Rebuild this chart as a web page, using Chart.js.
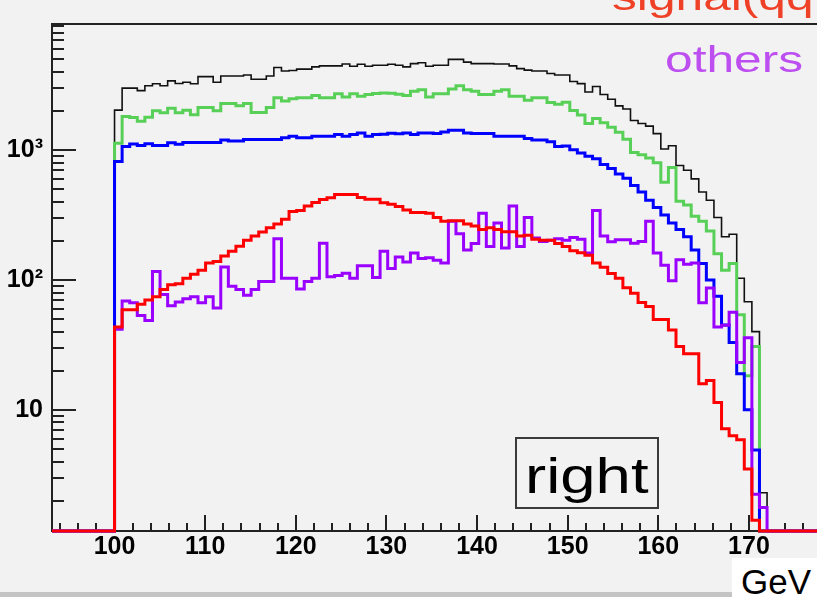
<!DOCTYPE html>
<html>
<head>
<meta charset="utf-8">
<script src="https://cdn.jsdelivr.net/npm/chart.js@4.4.1/dist/chart.umd.min.js"></script>
<style>
html,body{margin:0;padding:0;background:#f2f2f2;overflow:hidden;}
#wrap{position:relative;width:817px;height:597px;overflow:hidden;background:#f2f2f2;}
#c{position:absolute;left:0;top:0;}
.t{position:absolute;white-space:nowrap;line-height:1;font-family:"Liberation Sans",Arial,sans-serif;transform-origin:0 0;}
</style>
</head>
<body>
<div id="wrap">
<canvas id="c" width="817" height="597"></canvas>
<div class="t" style="left:612px;top:-20px;font-size:36px;color:#ef4128;transform:scaleX(1.38)">signal(qqH)</div>
<div class="t" style="left:665px;top:42px;font-size:36px;color:#bd4ff0;transform:scaleX(1.38)">others</div>
<div style="position:absolute;left:515px;top:437px;width:144px;height:72px;box-sizing:border-box;border:2px solid #3a3a3a;"></div>
<div class="t" style="left:525px;top:451px;font-size:50px;color:#000;transform:scaleX(1.27)">right</div>
<div style="position:absolute;left:0;top:592px;width:732px;height:5px;background:#c4c4c4"></div>
<div style="position:absolute;left:732px;top:558px;width:85px;height:39px;background:#ffffff"></div>
<div class="t" style="left:741px;top:564px;font-size:35px;color:#000">GeV</div>
</div>
<script>
// ---- binning (GeV) ----
const binStart = 100;
const binWidth = 0.8372;

// ---- tick labels ----
const xTickValues = [100, 110, 120, 130, 140, 150, 160, 170];
const yTickValues = [10, 100, 1000];
const yTickLabels = ['10', '10\u00B2', '10\u00B3'];

// ---- series (entries per bin) ----
const total = [2030, 3000, 3000, 2870, 3130, 3240, 3130, 3410, 3260, 3330,
  3240, 3680, 3680, 3330, 3720, 3720, 3720, 3790, 3510, 3510,
  3720, 4320, 4060, 4100, 4200, 4200, 4370, 4450, 4450, 4450,
  4600, 4420, 4580, 4420, 4500, 4500, 4580, 4500, 4370, 4630,
  4710, 4420, 4500, 4500, 4990, 4990, 4760, 4630, 4630, 4630,
  4600, 4600, 4450, 4240, 4130, 4060, 4060, 3890, 3790, 3790,
  3370, 3250, 2800, 3090, 2680, 2460, 2190, 2070, 1690, 1600,
  1530, 1340, 1020, 1080, 760, 700, 600, 476, 411, 303,
  215, 225, 103, 68, 40, 2.3];

const greenBkg = [1130, 1810, 1780, 1670, 1790, 2010, 1940, 2100, 1940, 2030,
  1870, 2130, 2130, 2010, 2280, 2280, 2190, 2280, 1950, 1950,
  2130, 2530, 2390, 2480, 2530, 2530, 2630, 2530, 2530, 2710,
  2560, 2710, 2600, 2680, 2730, 2750, 2740, 2690, 2630, 2840,
  2920, 2560, 2710, 2710, 2950, 3130, 2920, 2840, 2680, 2680,
  2840, 2920, 2600, 2600, 2420, 2530, 2530, 2320, 2250, 2340,
  2020, 1860, 1600, 1750, 1620, 1500, 1370, 1210, 960, 920,
  870, 800, 565, 733, 404, 377, 309, 283, 238, 159,
  119, 134, 54, 18.3, 30.8, 0];

const blueBkg = [817, 1064, 1115, 1086, 1121, 1086, 1086, 1140, 1111, 1144,
  1144, 1144, 1144, 1144, 1195, 1174, 1174, 1209, 1209, 1209,
  1209, 1209, 1243, 1280, 1243, 1243, 1280, 1280, 1280, 1318,
  1280, 1318, 1356, 1280, 1318, 1326, 1349, 1337, 1356, 1318,
  1356, 1356, 1342, 1379, 1420, 1420, 1356, 1342, 1342, 1342,
  1280, 1280, 1280, 1280, 1230, 1195, 1195, 1160, 1064, 1077,
  1005, 950, 895, 856, 776, 720, 653, 606, 533, 476,
  411, 361, 317, 275, 245, 215, 170, 134, 100, 75,
  45, 33, 19, 10, 4.9, 0];

const signal = [43.4, 59, 59, 65.1, 70.2, 74.3, 84.4, 92, 93.6, 103,
  110.5, 119, 135, 139, 153, 166, 182, 202, 218, 234,
  252, 270, 294, 336, 342, 371, 395, 416, 429, 454,
  454, 454, 431, 418, 418, 393, 382, 367, 346, 331,
  331, 327, 303, 283, 286, 286, 270, 260, 245, 252,
  245, 235, 235, 218, 221, 206, 202, 202, 191, 181,
  168, 162, 155, 135, 125, 112, 103, 87, 79, 67,
  62.5, 49.7, 49.7, 41.1, 30.8, 27, 27, 15.9, 16.8, 11.4,
  7.16, 6.32, 5.89, 3.51, 1.41, 0];

const others = [41.8, 69, 66.9, 53.2, 48.8, 116, 77.4, 63.2, 67.8, 71.8,
  74.3, 66.9, 74.3, 60.8, 126, 89.4, 84.4, 76.1, 84.4, 97.4,
  97.4, 208, 103, 103, 85.3, 97.4, 103, 192, 106, 108,
  112.5, 103, 128.5, 128.5, 104.4, 166.5, 122.6, 150, 137.7, 161,
  146, 148, 142, 135, 283, 227, 170, 191, 327, 181,
  275, 176, 371, 181, 303, 210, 198, 202, 208, 202,
  212, 206, 161, 342, 218, 197, 204, 204, 192, 198,
  283, 161, 130, 98.6, 143, 132, 135, 66.9, 86.8, 43.4,
  44.8, 56.3, 23.1, 35.9, 2.24, 1.77];

// ---- axis ranges ----
const X_MIN = 93.10, X_MAX = 177.51;
const Y_MIN = 1.167, Y_MAX = 9350;

// histogram outline: empty bins sit on the lower frame edge
function outline(vals) {
  const pts = [{x: X_MIN, y: Y_MIN}, {x: binStart, y: Y_MIN}];
  vals.forEach((v, i) => {
    const y = v > Y_MIN ? v : Y_MIN;
    pts.push({x: binStart + i * binWidth, y});
    pts.push({x: binStart + (i + 1) * binWidth, y});
  });
  pts.push({x: binStart + vals.length * binWidth, y: Y_MIN});
  pts.push({x: X_MAX, y: Y_MIN});
  return pts;
}

const frameTicks = {
  id: 'frameTicks',
  beforeDatasetsDraw(chart) {
    const {ctx, chartArea: a, scales: {x, y}} = chart;
    ctx.save();
    ctx.strokeStyle = '#222';
    ctx.lineWidth = 2;
    ctx.beginPath();
    ctx.moveTo(a.left, a.top); ctx.lineTo(a.right, a.top);
    for (let v = 94; v <= X_MAX; v += 2) {
      const px = Math.round(x.getPixelForValue(v));
      const len = (v % 10 === 0) ? 16 : 8;
      ctx.moveTo(px, a.bottom); ctx.lineTo(px, a.bottom - len);
    }
    for (let e = 0; e < 4; e++) {
      for (let m = 1; m < 10; m++) {
        const v = m * Math.pow(10, e);
        if (v < Y_MIN || v > Y_MAX) continue;
        const py = Math.round(y.getPixelForValue(v));
        const len = (m === 1) ? 24 : 12;
        ctx.moveTo(a.left, py); ctx.lineTo(a.left + len, py);
      }
    }
    ctx.stroke();
    ctx.restore();
  }
};

const font = {family: '"Liberation Sans", Arial, sans-serif', size: 25, weight: 'bold'};
function ds(label, vals, color, width) {
  return {label, data: outline(vals), borderColor: color, borderWidth: width,
    pointRadius: 0, fill: false, tension: 0, clip: 4,
    borderJoinStyle: 'miter', borderCapStyle: 'butt'};
}

new Chart(document.getElementById('c'), {
  type: 'line',
  data: {datasets: [
    ds('signal', signal, '#ff0000', 3),
    ds('others', others, '#9900ff', 3),
    ds('blue', blueBkg, '#0000ff', 3),
    ds('green', greenBkg, '#58d058', 3),
    ds('total', total, '#111111', 1.6)
  ]},
  options: {
    responsive: false, animation: false, devicePixelRatio: 1,
    layout: {padding: {top: 11, left: 0, right: 0, bottom: 0}},
    plugins: {legend: {display: false}, tooltip: {enabled: false}},
    scales: {
      x: {
        type: 'linear', min: X_MIN, max: X_MAX, bounds: 'data',
        grid: {display: false, drawTicks: false, tickLength: 0},
        border: {display: true, color: '#222', width: 2},
        afterBuildTicks: s => { s.ticks = xTickValues.map(v => ({value: v})); },
        afterFit: s => { s.height = 66; },
        ticks: {autoSkip: false, maxRotation: 0, minRotation: 0, padding: 1, color: '#000', font,
          callback: v => String(v)}
      },
      y: {
        type: 'logarithmic', min: Y_MIN, max: Y_MAX, bounds: 'data',
        grid: {display: false, drawTicks: false, tickLength: 0},
        border: {display: true, color: '#222', width: 2},
        afterBuildTicks: s => { s.ticks = yTickValues.map(v => ({value: v})); },
        afterFit: s => { s.width = 52; },
        ticks: {autoSkip: false, padding: 9, color: '#000', font,
          callback: v => { const i = yTickValues.indexOf(v); return i >= 0 ? yTickLabels[i] : ''; }}
      }
    }
  },
  plugins: [frameTicks]
});
</script>
</body>
</html>
